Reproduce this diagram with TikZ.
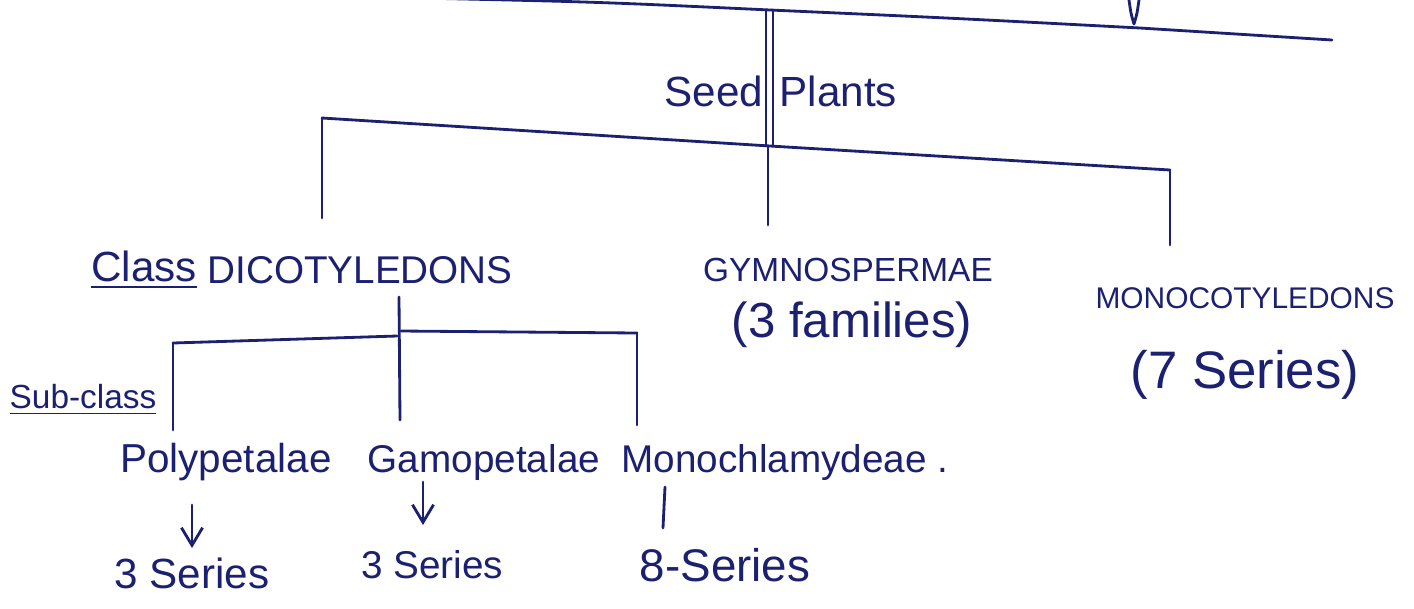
\documentclass[tikz,border=0pt]{standalone}
\usepackage{fontspec}
\setmainfont{Liberation Sans}
\usetikzlibrary{arrows.meta}
\definecolor{ink}{RGB}{28,32,112}
\begin{document}
\begin{tikzpicture}[x=0.01cm,y=-0.01cm,
  line/.style={draw=ink,line width=0.8pt,line cap=round,line join=round},
  arr/.style={line,-{Straight Barb[length=5pt,width=6pt]}},
  lbl/.style={text=ink,inner sep=0pt}]
\useasboundingbox (0,0) rectangle (1414,608);
\fill[white] (0,0) rectangle (1414,608);

% texts
\node[lbl,anchor=east,font=\fontsize{12}{14}\selectfont] (seed) at (764,91) {Seed};
\node[lbl,anchor=west,font=\fontsize{12}{14}\selectfont] (plants) at (779,91) {Plants};
\node[lbl,font=\fontsize{12}{14}\selectfont] (class) at (144,270) {\underline{Class}};
\node[lbl,font=\fontsize{11}{13}\selectfont] (dicot) at (360,270) {DICOTYLEDONS};
\node[lbl,font=\fontsize{9.5}{11}\selectfont] (gymno) at (848,270) {GYMNOSPERMAE};
\node[lbl,font=\fontsize{14}{16}\selectfont] (fam) at (852,325) {(3 families)};
\node[lbl,font=\fontsize{8.5}{10}\selectfont] (mono) at (1245,298) {MONOCOTYLEDONS};
\node[lbl,font=\fontsize{15}{17}\selectfont] (mser) at (1245,375) {(7 Series)};
\node[lbl,font=\fontsize{9.5}{11}\selectfont] (subc) at (83,400) {\underline{Sub-class}};
\node[lbl,font=\fontsize{11.5}{13}\selectfont] (poly) at (226,462) {Polypetalae};
\node[lbl,font=\fontsize{11}{13}\selectfont] (gamo) at (484,462) {Gamopetalae};
\node[lbl,font=\fontsize{11}{13}\selectfont] (monoch) at (785,462) {Monochlamydeae .};
\node[lbl,font=\fontsize{12}{14}\selectfont] (s1) at (192,573) {3 Series};
\node[lbl,font=\fontsize{11}{13}\selectfont] (s2) at (432,565) {3 Series};
\node[lbl,font=\fontsize{13}{15}\selectfont] (s3) at (725,565) {8-Series};

% coordinates
\coordinate (tl) at (420,-2);
\coordinate (tj) at (770,10);
\coordinate (tq) at (1140,28);
\coordinate (tr) at (1332,40);
\coordinate (sa1) at (766,10);
\coordinate (sb1) at (766,146);
\coordinate (sa2) at (773,10);
\coordinate (sb2) at (773,146);
\coordinate (b2l) at (322,118);
\coordinate (b2m) at (770,146);
\coordinate (b2r) at (1170,170);
\coordinate (dend) at (322,218);
\coordinate (gtop) at (768,146);
\coordinate (gend) at (768,225);
\coordinate (mend) at (1170,245);
\coordinate (dtop) at (399,297);
\coordinate (djl) at (397,336);
\coordinate (djr) at (401,331);
\coordinate (dmid) at (400,420);
\coordinate (pl) at (173,343);
\coordinate (pe) at (173,430);
\coordinate (pr) at (637,333);
\coordinate (pre) at (637,425);
\coordinate (a1s) at (192,505);
\coordinate (a1e) at (192,548);
\coordinate (a2s) at (423,482);
\coordinate (a2e) at (423,525);
\coordinate (a3s) at (665,487);
\coordinate (a3e) at (663,528);
\coordinate (va) at (1129,0);
\coordinate (vb) at (1134,24);
\coordinate (vc) at (1139,0);

% top bar
\draw[line] (tl) .. controls (600,2) .. (tj) .. controls (950,18) .. (tq) -- (tr);
\draw[line] (va) .. controls (1131,14) .. (vb) .. controls (1137,14) .. (vc);
% seed plants stem (double)
\draw[line] (sa1) -- (sb1);
\draw[line] (sa2) -- (sb2);
% second bar
\draw[line] (b2l) -- (b2m) -- (b2r);
\draw[line] (b2l) -- (dend);
\draw[line] (gtop) -- (gend);
\draw[line] (b2r) -- (mend);
% dicot branches
\draw[line] (dtop) -- (dmid);
\draw[line] (pl) -- (djl);
\draw[line] (djr) -- (pr);
\draw[line] (pl) -- (pe);
\draw[line] (pr) -- (pre);
% arrows to series
\draw[arr] (a1s) -- (a1e);
\draw[arr] (a2s) -- (a2e);
\draw[line] (a3s) -- (a3e);
\end{tikzpicture}
\end{document}
